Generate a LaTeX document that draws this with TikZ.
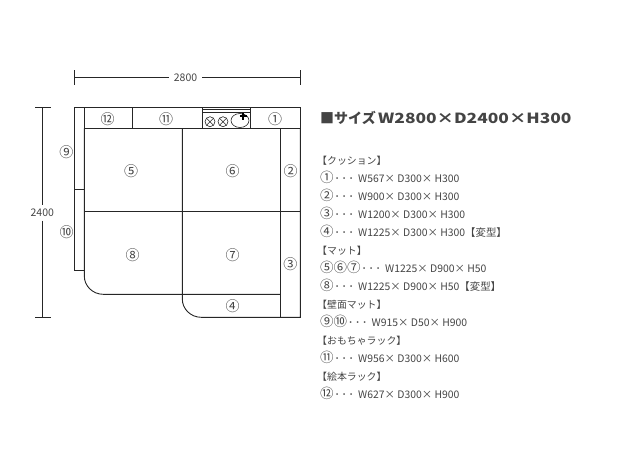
\documentclass[tikz,border=0pt]{standalone}
\usepackage{xcolor}
\usepackage{graphicx}
\usepackage{fontspec}
\setmainfont{Noto Sans CJK JP}
\definecolor{inkgray}{HTML}{444444}
\newcommand{\circnum}[1]{{\fontsize{13.5}{12}\selectfont #1}}
\newcommand{\leader}{\makebox[7pt]{･}\makebox[7pt]{･}\makebox[7pt]{･}\hspace{3.5pt}}

\begin{document}
\begin{tikzpicture}[
  x=1pt,y=-1pt,
  every node/.style={text=inkgray,inner sep=1pt,font=\fontsize{10}{12}\selectfont},
  part/.style={draw=black!85,line width=0.9pt},
  num/.style={font=\fontsize{14}{14}\selectfont},
  dim/.style={font=\fontsize{10.5}{12}\selectfont},
  spec/.style={anchor=west,inner sep=0pt,font=\fontsize{10.4}{12}\selectfont},
  head/.style={anchor=west,inner sep=0pt,font=\fontsize{9.9}{12}\selectfont}
  ]
  \useasboundingbox (0,0) rectangle (630,448);
  % dimensions
  \node[dim,minimum width=33,minimum height=12] (width) at (185.5,77.3) {2800};
  \node[dim,minimum height=15] (depth) at (42.3,213) {2400};
  \coordinate (wl) at (74.3,77.3);
  \coordinate (wr) at (300.3,77.3);
  \coordinate (dt) at (42.3,107.8);
  \coordinate (db) at (42.3,317.3);
  \draw[part] (wl) -- (width) -- (wr);
  \draw[part] (dt) -- (depth) -- (db);
  \draw[part] (74.3,70) -- (wl) -- (74.3,85);
  \draw[part] (300.3,70) -- (wr) -- (300.3,85);
  \draw[part] (35,107.8) -- (dt) -- (50.7,107.8);
  \draw[part] (35,317.3) -- (db) -- (50.7,317.3);
  % wall mats
  \draw[part] (74.3,107.8) rectangle (84.3,189.3);
  \draw[part] (74.3,189.3) rectangle (84.3,270.3);
  % top row
  \draw[part] (84.3,107.8) rectangle (300.3,128.3);
  \draw[part] (132.7,107.8) -- (132.7,128.3);
  \draw[part] (202.7,107.8) -- (202.7,128.3);
  \draw[part] (250.3,107.8) -- (250.3,128.3);
  % toy rack
  \draw[part] (202.7,109.8) -- (250.3,109.8);
  \draw[part] (202.7,112) -- (250.3,112);
  \draw[part,line width=0.6pt] (210,121.7) circle (5);
  \draw[part,line width=0.6pt] (206.5,118.2) -- (213.5,125.2) (206.5,125.2) -- (213.5,118.2);
  \draw[part,line width=0.6pt] (223,121.7) circle (5);
  \draw[part,line width=0.6pt] (219.5,118.2) -- (226.5,125.2) (219.5,125.2) -- (226.5,118.2);
  \draw[part,line width=0.6pt] (240,120.5) ellipse (9 and 7);
  \draw[draw=black,line width=1.2pt] (243,112.5) -- (243,119.5) (239.5,116) -- (246.5,116);
  % mats and cushions
  \draw[part] (84.3,128.3) -- (84.3,276) arc[start angle=180,end angle=90,x radius=19,y radius=18.3] -- (280.3,294.3);
  \draw[part] (182.3,128.3) -- (182.3,299) arc[start angle=180,end angle=90,x radius=19,y radius=18.3] -- (300.3,317.3) -- (300.3,128.3);
  \draw[part] (84.3,211.3) -- (300.3,211.3);
  \draw[part] (280.3,128.3) -- (280.3,317.3);
  % numbers
  \node[num] (n12) at (107.7,119) {⑫};
  \node[num] (n11) at (166,119) {⑪};
  \node[num] (n1) at (275,119) {①};
  \node[num] (n9) at (66.5,152) {⑨};
  \node[num] (n5) at (131,171) {⑤};
  \node[num] (n6) at (232.7,171) {⑥};
  \node[num] (n2) at (290.5,171) {②};
  \node[num] (n10) at (66.7,231.7) {⑩};
  \node[num] (n8) at (132.7,255) {⑧};
  \node[num] (n7) at (232.7,255) {⑦};
  \node[num] (n3) at (290.3,263.7) {③};
  \node[num] (n4) at (232.7,306) {④};
  % size list
  \node[spec,font=\fontsize{14}{16}\selectfont\bfseries] (title) at (320,118) {■サイズ};
  \node[spec,font=\fontsize{14}{16}\selectfont\bfseries] (titlesize) at (378,118) {\scalebox{1.24}[1]{W2800×D2400×H300}};
  \node[head] (l1) at (317,160.5) {【クッション】};
  \node[spec] (l2) at (320,177.7) {\circnum{①}\leader W567× D300× H300};
  \node[spec] (l3) at (320,195.7) {\circnum{②}\leader W900× D300× H300};
  \node[spec] (l4) at (320,213.7) {\circnum{③}\leader W1200× D300× H300};
  \node[spec] (l5) at (320,231.7) {\circnum{④}\leader W1225× D300× H300【変型】};
  \node[head] (l6) at (317,250.5) {【マット】};
  \node[spec] (l7) at (320,267.7) {\circnum{⑤⑥⑦}\leader W1225× D900× H50};
  \node[spec] (l8) at (320,285.7) {\circnum{⑧}\leader W1225× D900× H50【変型】};
  \node[head] (l9) at (317,304.5) {【壁面マット】};
  \node[spec] (l10) at (320,321.7) {\circnum{⑨⑩}\leader W915× D50× H900};
  \node[head] (l11) at (317,340.5) {【おもちゃラック】};
  \node[spec] (l12) at (320,357.7) {\circnum{⑪}\leader W956× D300× H600};
  \node[head] (l13) at (317,376.5) {【絵本ラック】};
  \node[spec] (l14) at (320,393.7) {\circnum{⑫}\leader W627× D300× H900};
\end{tikzpicture}
\end{document}
